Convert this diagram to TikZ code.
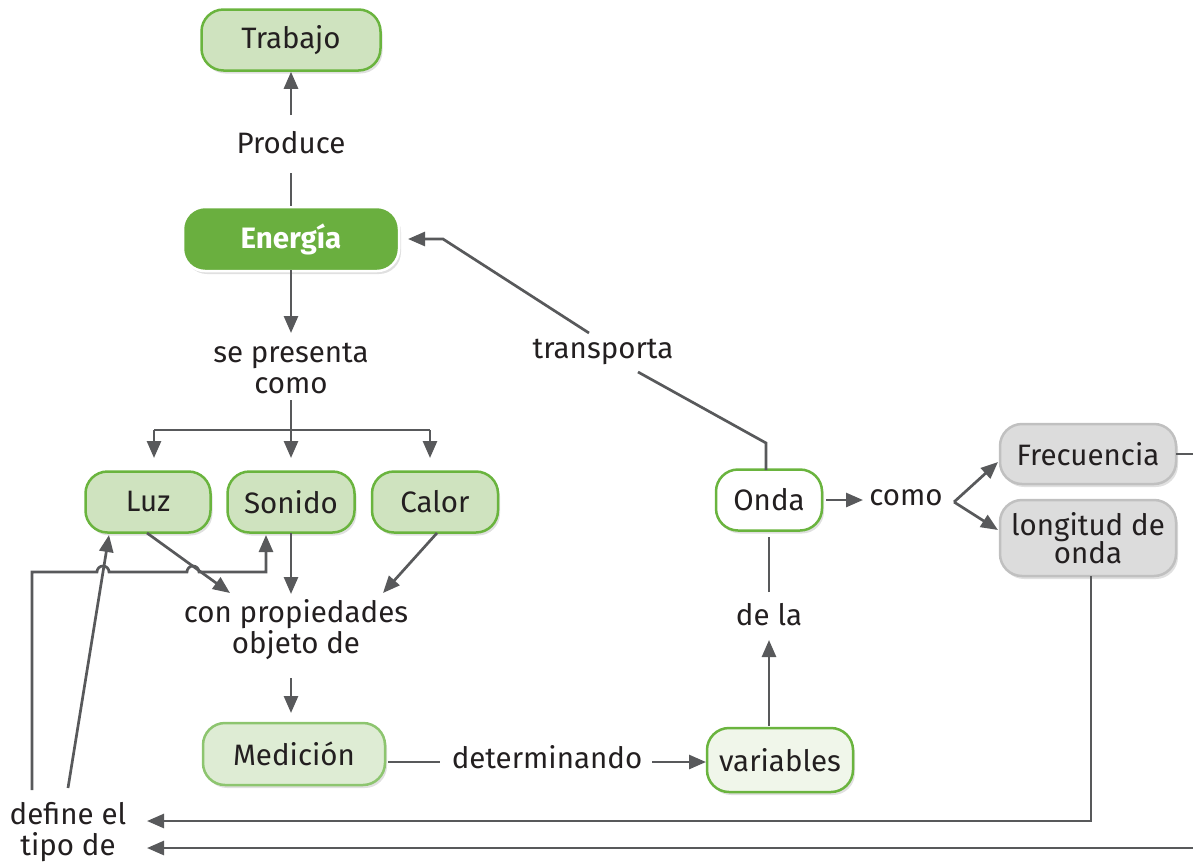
\documentclass[tikz,border=0pt]{standalone}
\usepackage{fontspec}
\setmainfont{Fira Sans}
\usetikzlibrary{arrows.meta,shadows}
\definecolor{ln}{HTML}{58595B}
\definecolor{tx}{HTML}{231F20}
\definecolor{gr}{HTML}{6AB43E}
\definecolor{lg}{HTML}{CFE3BF}
\definecolor{eg}{HTML}{6AAF3F}
\definecolor{mg}{HTML}{DEECD4}
\definecolor{mb}{HTML}{8DC56F}
\definecolor{vg}{HTML}{F0F6EA}
\definecolor{gf}{HTML}{DCDCDC}
\definecolor{gb}{HTML}{C0C0C0}
\begin{document}
\begin{tikzpicture}[x=1pt,y=-1pt,
  font=\fontsize{29.5}{31}\selectfont,
  box/.style={rounded corners=22pt, line width=2.5pt, draw=gr, fill=lg, text=tx,
    align=center, inner sep=0pt,
    drop shadow={shadow xshift=2pt, shadow yshift=-3pt, opacity=0.12, fill=black}},
  lbl/.style={text=tx, align=center, inner sep=0pt},
  con/.style={draw=ln, line width=2.7pt},
  arr/.style={con, -{Triangle[length=17pt,width=14pt]}}]
\useasboundingbox (0,0) rectangle (1193,863);

% nodes
\node[box, minimum width=179pt, minimum height=61pt] (trabajo) at (291,40) {Trabajo};
\node[box, fill=eg, draw=white, text=white, font=\fontsize{29.5}{31}\selectfont\bfseries,
  minimum width=216pt, minimum height=64pt] (energia) at (291,239) {Energía};
\node[box, minimum width=125pt, minimum height=61pt] (luz) at (148,502) {Luz};
\node[box, minimum width=127pt, minimum height=61pt] (sonido) at (291,502) {Sonido};
\node[box, minimum width=126pt, minimum height=61pt] (calor) at (435,502) {Calor};
\node[box, fill=white, minimum width=106pt, minimum height=61pt] (onda) at (769,500) {Onda};
\node[box, fill=gf, draw=gb, minimum width=176pt, minimum height=60pt] (frec) at (1088,454) {Frecuencia};
\node[box, fill=gf, draw=gb, minimum width=176pt, minimum height=76pt] (long) at (1088,538) {longitud de\\[-3pt]onda};
\node[box, fill=mg, draw=mb, minimum width=182pt, minimum height=62pt] (medicion) at (294,754) {Medición};
\node[box, fill=vg, minimum width=146pt, minimum height=64pt] (variables) at (780,760) {variables};

% labels
\node[lbl] (produce) at (291,143) {Produce};
\node[lbl] (sepresenta) at (291,368) {se presenta\\como};
\node[lbl] (transporta) at (603,352) {transporta};
\node[lbl] (como) at (906,498) {como};
\node[lbl] (conprop) at (296,630) {con propiedades\\objeto de};
\node[lbl] (dela) at (769,615) {de la};
\node[lbl] (determinando) at (547,757) {determinando};
\node[lbl] (define) at (68,832) {define el\\tipo de};

% coordinates
\coordinate (p1) at (291,173);
\coordinate (p2) at (291,115);
\coordinate (e1) at (291,270);
\coordinate (s1) at (291,333);
\coordinate (s2) at (291,400);
\coordinate (b1) at (154,430);
\coordinate (b2) at (291,430);
\coordinate (b3) at (430,430);
\coordinate (t1) at (154,458);
\coordinate (t2) at (291,458);
\coordinate (t3) at (430,458);
\coordinate (l1) at (147,533);
\coordinate (l2) at (230,593);
\coordinate (so1) at (291,533);
\coordinate (so2) at (291,594);
\coordinate (c1) at (437,533);
\coordinate (c2) at (383,593);
\coordinate (cp1) at (291,678);
\coordinate (cp2) at (291,713);
\coordinate (m1) at (388,762);
\coordinate (d1) at (440,762);
\coordinate (d2) at (652,762);
\coordinate (v0) at (706,762);
\coordinate (v1) at (769,726);
\coordinate (dl1) at (769,640);
\coordinate (dl2) at (769,592);
\coordinate (o1) at (769,537);
\coordinate (ot) at (766,470);
\coordinate (ot2) at (766,443);
\coordinate (tr1) at (638,372);
\coordinate (tr2) at (589,333);
\coordinate (en1) at (443,239);
\coordinate (en2) at (408,239);
\coordinate (or) at (826,500);
\coordinate (co1) at (863,500);
\coordinate (co2) at (954,502);
\coordinate (fr1) at (998,462);
\coordinate (lo1) at (998,530);
\coordinate (fr2) at (1176,454);
\coordinate (fr3) at (1210,454);
\coordinate (fr4) at (1210,848);
\coordinate (df2) at (147,848);
\coordinate (lo2) at (1091,576);
\coordinate (lo3) at (1091,821);
\coordinate (df1) at (147,821);
\coordinate (dfa) at (32,790);
\coordinate (dfb) at (68,788);
\coordinate (sa) at (266,535);
\coordinate (la) at (109,535);

% connectors
\draw[con] (energia.north) -- (p1);
\draw[arr] (p2) -- (trabajo.south);
\draw[arr] (e1) -- (s1);
\draw[con] (s2) -- (b2);
\draw[con] (b1) -- (b3);
\draw[arr] (b1) -- (t1);
\draw[arr] (b2) -- (t2);
\draw[arr] (b3) -- (t3);
\draw[arr] (l1) -- (l2);
\draw[arr] (so1) -- (so2);
\draw[arr] (c1) -- (c2);
\draw[arr] (cp1) -- (cp2);
\draw[con] (m1) -- (d1);
\draw[arr] (d2) -- (v0);
\draw[arr] (v1) -- (dl1);
\draw[con] (dl2) -- (o1);
\draw[con] (ot) -- (ot2) -- (tr1);
\draw[arr] (tr2) -- (en1) -- (en2);
\draw[arr] (or) -- (co1);
\draw[arr] (co2) -- (fr1);
\draw[arr] (co2) -- (lo1);
\draw[arr] (fr2) -- (fr3) -- (fr4) -- (df2);
\draw[arr] (lo2) -- (lo3) -- (df1);
\draw[arr] (dfa) -- (32,572) -- (97,572) arc[start angle=180, end angle=0, radius=6pt]
  -- (187,572) arc[start angle=180, end angle=0, radius=6pt] -- (266,572) -- (sa);
\draw[arr] (dfb) -- (la);
\end{tikzpicture}
\end{document}
